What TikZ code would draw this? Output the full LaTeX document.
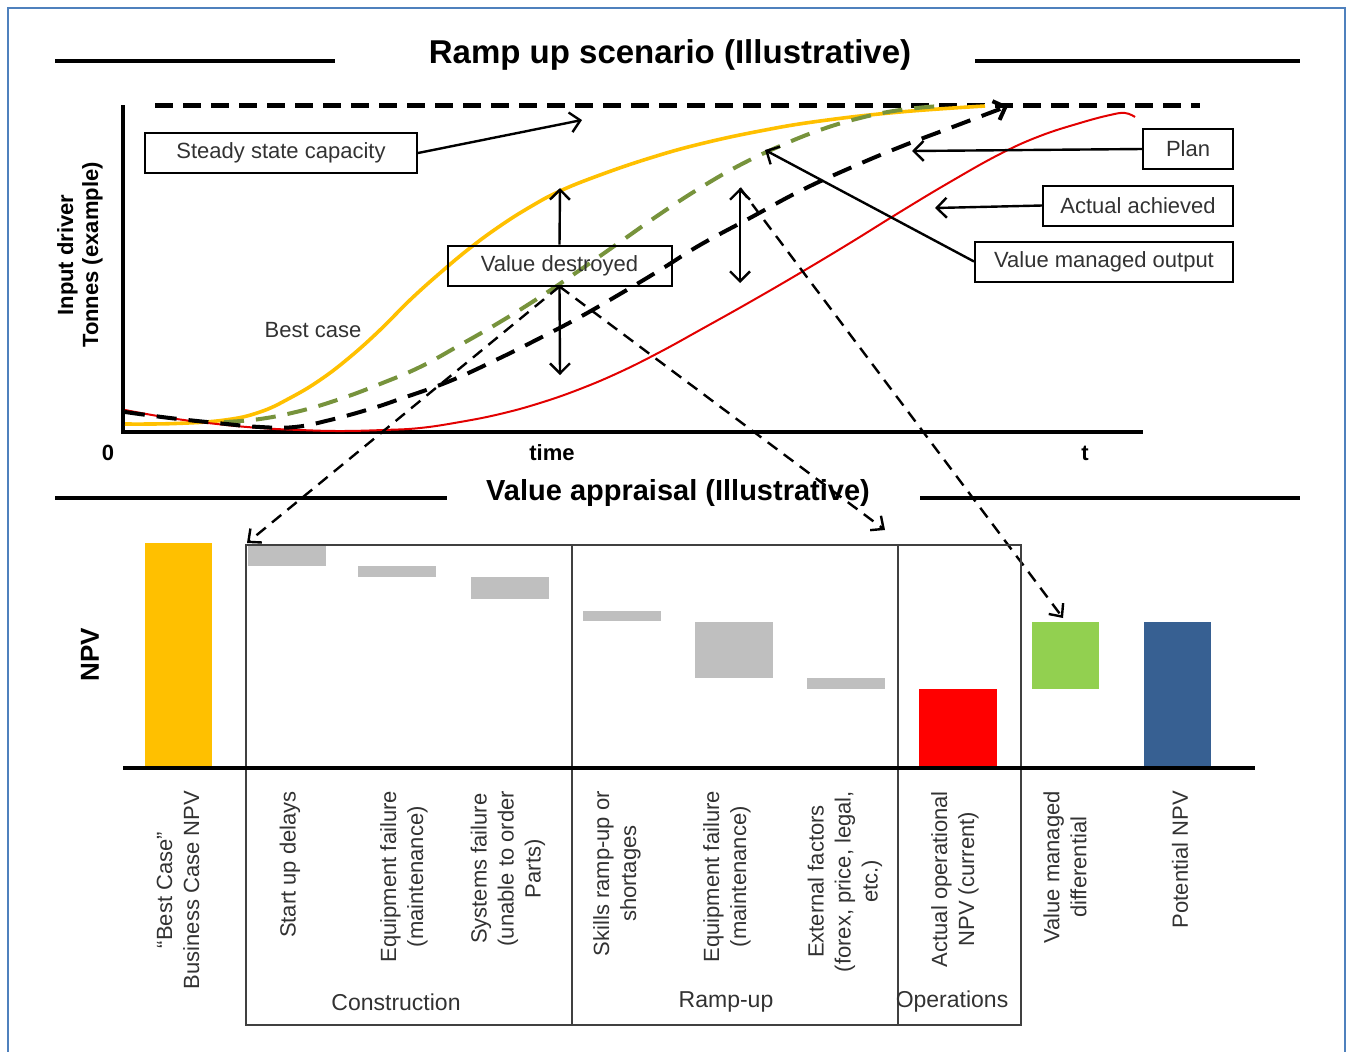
\documentclass[tikz,border=0pt]{standalone}
\usepackage{fontspec}
\setmainfont{Liberation Sans}
\usetikzlibrary{arrows.meta}

\definecolor{bestyellow}{RGB}{255,192,0}
\definecolor{vmgreen}{RGB}{119,147,60}
\definecolor{actred}{RGB}{226,0,0}
\definecolor{barred}{RGB}{255,0,0}
\definecolor{bargreen}{RGB}{146,208,80}
\definecolor{barblue}{RGB}{55,96,146}
\definecolor{bargrey}{RGB}{191,191,191}
\definecolor{framegrey}{RGB}{64,64,64}
\definecolor{edgeblue}{RGB}{79,129,189}
\definecolor{txtgrey}{RGB}{50,50,50}

\begin{document}
\begin{tikzpicture}[x=0.5pt,y=-0.5pt,
  headtext/.style={font=\bfseries\fontsize{16.5}{19}\selectfont},
  subhead/.style={font=\bfseries\fontsize{14.5}{17}\selectfont},
  ruleline/.style={line width=2.2pt},
  axisline/.style={line width=2pt},
  callout/.style={draw,line width=1pt,text=txtgrey,font=\fontsize{11}{13.5}\selectfont,
    minimum height=20pt,inner sep=2pt},
  pointer/.style={line width=1.2pt,-{Straight Barb[length=5pt,width=10pt]}},
  twoway/.style={line width=1.2pt,{Straight Barb[length=5pt,width=10pt]}-{Straight Barb[length=5pt,width=10pt]}},
  jump/.style={line width=1.2pt,dash pattern=on 6pt off 4pt,-{Straight Barb[length=5pt,width=9pt]}},
  ticktext/.style={font=\bfseries\fontsize{11}{13}\selectfont},
  cat/.style={rotate=90,anchor=east,align=center,text=txtgrey,font=\fontsize{11}{13.5}\selectfont},
  phase/.style={text=txtgrey,font=\fontsize{11.5}{13.5}\selectfont},
  boxline/.style={draw=framegrey,line width=1.4pt}]
  \useasboundingbox (0,0) rectangle (1353,1051);
  \draw[edgeblue,line width=0.8pt] (8,8) rectangle (1345,1070);

  % ramp up scenario
  \node[headtext] (rtitle) at (670,55) {Ramp up scenario (Illustrative)};
  \draw[ruleline] (55,61) -- (335,61) (975,61) -- (1300,61);
  \draw[axisline] (123,105) -- (123,432) -- (1143,432);
  \draw[line width=2.5pt,dash pattern=on 9pt off 5pt] (155,105) -- (1200,105);
  \node[ticktext] (zero) at (108,453) {0};
  \node[ticktext] (tmid) at (552,453) {time};
  \node[ticktext] (tend) at (1085,453) {t};
  \node[rotate=90,align=center,font=\bfseries\fontsize{11}{12.5}\selectfont] (ylab) at (80,255)
    {Input driver\\Tonnes (example)};

  % best case, value managed, actual, plan
  \draw[bestyellow,line width=1.8pt] plot[smooth,tension=0.7] coordinates {(125,424) (175,423.5)
    (225,420) (260,412) (290,398) (320,380) (350,357) (380,330) (410,300) (440,273) (470,248)
    (500,226) (530,207) (560,191) (600,175) (650,158) (700,144) (760,131) (820,121) (900,112) (985,106)};
  \draw[vmgreen,line width=2pt,dash pattern=on 10pt off 6pt] plot[smooth,tension=0.7] coordinates {(224,422)
    (260,419) (300,411) (340,399) (380,384) (420,367) (460,345) (500,322) (540,297) (580,270) (620,242)
    (660,214) (700,188) (740,165) (780,146) (820,130) (860,118) (900,110) (940,106)};
  \draw[actred,line width=1pt] plot[smooth,tension=0.7] coordinates {(125,410) (170,418) (217,424)
    (260,428) (300,430) (340,431) (383,430) (420,428) (460,422) (500,414) (540,403) (580,389) (620,372)
    (660,352) (700,330) (750,302) (800,273) (850,243) (900,212) (950,182) (1000,154) (1040,136)
    (1080,123) (1110,115) (1125,113) (1135,117)};
  \draw[line width=2pt,dash pattern=on 10pt off 6pt,-{Straight Barb[length=5pt,width=10pt]}]
    plot[smooth,tension=0.7] coordinates {(125,412) (170,418) (217,423) (260,427) (295,427) (330,420)
    (370,409) (400,399) (450,381) (500,358) (540,338) (580,317) (620,294) (660,270) (700,245) (750,218)
    (800,191) (850,168) (900,147) (950,128) (1008,106)};

  \node[text=txtgrey,font=\fontsize{11}{13.5}\selectfont] (best) at (313,330) {Best case};
  \node[callout,minimum width=136pt] (ssc) at (281,153) {Steady state capacity};
  \node[callout,minimum width=112pt] (vd) at (559.5,265.5) {Value destroyed};
  \node[callout,minimum width=45pt] (plan) at (1188,149) {Plan};
  \node[callout,minimum width=95pt] (act) at (1138,205.5) {Actual achieved};
  \node[callout,minimum width=129pt] (vmo) at (1104,261.5) {Value managed output};

  \coordinate (sscend) at (582,120);
  \coordinate (planend) at (912,151);
  \coordinate (actend) at (935,208);
  \coordinate (vmoend) at (765,150);
  \coordinate (bestpt) at (560,188);
  \coordinate (lowpt) at (560,375);
  \coordinate (gaptop) at (740,188);
  \coordinate (gapbot) at (740,283);
  \coordinate (constr) at (247,543);
  \coordinate (rampin) at (885,530);
  \coordinate (vmbar) at (1063,618);

  \draw[pointer] (ssc.east) -- (sscend);
  \draw[pointer] (plan.west) -- (planend);
  \draw[pointer] (act.west) -- (actend);
  \draw[pointer] (vmo.west) -- (vmoend);
  \draw[pointer] (vd.north) -- (bestpt);
  \draw[pointer] (vd.south) -- (lowpt);
  \draw[twoway] (gaptop) -- (gapbot);
  \draw[jump] (vd.south) -- (constr);
  \draw[jump] (vd.south) -- (rampin);
  \draw[jump] (gaptop) -- (vmbar);

  % value appraisal
  \node[subhead] (vtitle) at (678,493) {Value appraisal (Illustrative)};
  \draw[ruleline] (55,498) -- (447,498) (920,498) -- (1300,498);
  \node[rotate=90,font=\bfseries\fontsize{13}{15}\selectfont] (npv) at (90,655) {NPV};

  \fill[bestyellow] (145,543) rectangle (212,768);
  \foreach \xa/\ya/\yb in {248/545/566,358/566/577,471/577/599,583/611/621,695/622/678,807/678/689}
    \fill[bargrey] (\xa,\ya) rectangle (\xa+78,\yb);
  \fill[barred] (919,689) rectangle (997,768);
  \fill[bargreen] (1032,622) rectangle (1099,689);
  \fill[barblue] (1144,622) rectangle (1211,768);

  \draw[boxline] (246,545) rectangle (1021,1025);
  \foreach \xd in {572,898} \draw[boxline] (\xd,545) -- (\xd,1025);
  \draw[line width=2.4pt] (123,768) -- (1255,768);

  \foreach \xc/\txt in {178/{“Best Case”\\Business Case NPV},290/{Start up delays},
      404/{Equipment failure\\(maintenance)},508/{Systems failure\\(unable to order\\Parts)},
      617/{Skills ramp-up or\\shortages},727/{Equipment failure\\(maintenance)},
      845/{External factors\\(forex, price, legal,\\etc.)},955/{Actual operational\\NPV (current)},
      1065/{Value managed\\differential},1180/{Potential NPV}}
    \node[cat] (cat\xc) at (\xc,784) {\txt};

  \node[phase] (cons) at (396,1002) {Construction};
  \node[phase] (ramp) at (726,1002) {Ramp-up};
  \node[phase] (ops) at (952,1002) {Operations};
\end{tikzpicture}
\end{document}
